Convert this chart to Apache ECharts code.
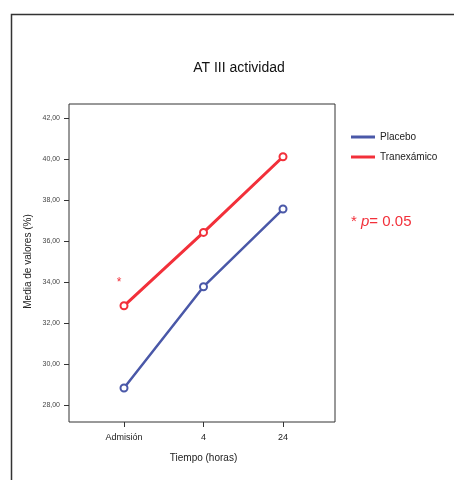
<!DOCTYPE html>
<html>
<head>
<meta charset="utf-8">
<script src="https://cdn.jsdelivr.net/npm/echarts@6/dist/echarts.min.js"></script>
<style>
  html, body { margin: 0; padding: 0; background: #fff; }
  #chart { width: 454px; height: 480px; }
</style>
</head>
<body>
<div id="chart"></div>
<script>
// data
var categories = ['Admisión', '4', '24'];
var placebo = [28.83, 33.77, 37.56];
var tranexamico = [32.84, 36.42, 40.11];
var yTicks = [28, 30, 32, 34, 36, 38, 40, 42];
var starPoint = ['Admisión', 34.1];

var blue = '#4a58a8';
var red = '#f2303a';
var font = 'Liberation Sans, Arial, sans-serif';

var chart = echarts.init(document.getElementById('chart'));
chart.setOption({
  animation: false,
  title: [
    {
      text: 'AT III actividad',
      left: 234, top: 56, textAlign: 'center',
      textStyle: {fontFamily: font, fontSize: 14, fontWeight: 'normal', color: '#111'}
    },
    {
      text: '{s|* }{p|p}{s|= 0.05}',
      left: 346, top: 209,
      textStyle: {
        fontWeight: 'normal',
        rich: {
          s: {fontFamily: font, fontSize: 15, fontWeight: 'normal', color: red},
          p: {fontFamily: font, fontSize: 15, fontWeight: 'normal', fontStyle: 'italic', color: red}
        }
      }
    }
  ],
  graphic: [
    {
      type: 'rect', silent: true,
      shape: {x: 11.5, y: 14.5, width: 480, height: 500},
      style: {fill: 'none', stroke: '#333', lineWidth: 1.5}
    }
  ],
  legend: {
    orient: 'vertical',
    left: 346, top: 127,
    icon: 'rect',
    itemWidth: 24, itemHeight: 3, itemGap: 10,
    itemStyle: {borderWidth: 0},
    textStyle: {fontFamily: font, fontSize: 10, color: '#222'},
    data: ['Placebo', 'Tranexámico']
  },
  grid: [
    {left: 69, top: 104, width: 266, height: 318, show: true, borderColor: '#333', borderWidth: 1},
    {left: 124, top: 118, width: 159, height: 287}
  ],
  xAxis: [
    {gridIndex: 0, type: 'value', show: false, min: 0, max: 1},
    {
      gridIndex: 1, type: 'category', data: categories, boundaryGap: false,
      offset: 17,
      axisLine: {show: false},
      axisTick: {length: 5, lineStyle: {color: '#333'}},
      axisLabel: {fontFamily: font, fontSize: 9, color: '#222', margin: 11},
      name: 'Tiempo (horas)', nameLocation: 'middle', nameGap: 31,
      nameTextStyle: {fontFamily: font, fontSize: 10, color: '#222'}
    }
  ],
  yAxis: [
    {gridIndex: 0, type: 'value', show: false, min: 0, max: 1},
    {
      gridIndex: 1, type: 'value',
      min: yTicks[0], max: yTicks[yTicks.length - 1], interval: yTicks[1] - yTicks[0],
      offset: 55,
      splitLine: {show: false},
      axisLine: {show: false},
      axisTick: {show: true, length: 5, lineStyle: {color: '#333'}},
      axisLabel: {
        fontFamily: font, fontSize: 7, color: '#444', margin: 9,
        formatter: function (v) { return v.toFixed(2).replace('.', ','); }
      },
      name: 'Media de valores (%)', nameLocation: 'middle', nameGap: 36,
      nameTextStyle: {fontFamily: font, fontSize: 10, color: '#222'}
    }
  ],
  series: [
    {
      name: 'Placebo', type: 'line', xAxisIndex: 1, yAxisIndex: 1,
      data: placebo,
      symbol: 'emptyCircle', symbolSize: 7,
      lineStyle: {color: blue, width: 2.5},
      itemStyle: {color: blue, borderColor: '#8a6ac0', borderWidth: 0.8}
    },
    {
      name: 'Tranexámico', type: 'line', xAxisIndex: 1, yAxisIndex: 1,
      data: tranexamico,
      symbol: 'emptyCircle', symbolSize: 7,
      lineStyle: {color: red, width: 3},
      itemStyle: {color: red, borderColor: '#e86070', borderWidth: 0.8},
      markPoint: {
        symbol: 'circle', symbolSize: 0,
        data: [{coord: starPoint}],
        label: {
          show: true, position: 'inside', offset: [-5, 3],
          formatter: '*', fontFamily: font, fontSize: 12, color: red
        }
      }
    }
  ]
});
</script>
</body>
</html>
